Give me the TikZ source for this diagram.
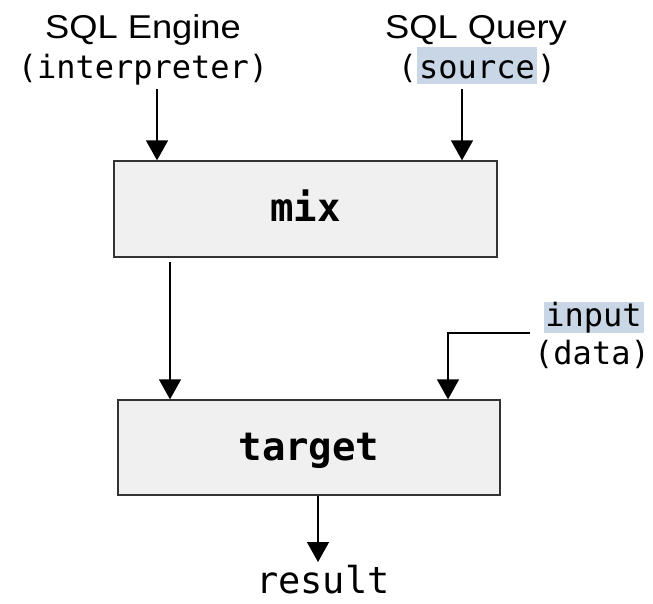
\documentclass[tikz,border=0pt]{standalone}
\usepackage{fontspec}
\setmainfont{Liberation Sans}[FakeStretch=1.1]
\newfontfamily\codefont{DejaVu Sans Mono}
\usetikzlibrary{arrows.meta}
\definecolor{boxfill}{HTML}{F0F0F0}
\definecolor{boxline}{HTML}{333333}
\definecolor{hl}{HTML}{C9D6E5}
\setlength{\fboxsep}{0pt}
\tikzset{
  block/.style={draw=boxline, line width=1.3pt, fill=boxfill, rectangle, inner sep=0pt},
  arr/.style={line width=1.4pt, -{Triangle[width=22pt,length=20pt]}},
  sanslabel/.style={anchor=base, inner sep=0pt, font=\fontsize{33}{38}\selectfont},
  codelabel/.style={anchor=base, inner sep=0pt, font=\codefont\fontsize{32}{38}\selectfont},
  boldcode/.style={anchor=base, inner sep=0pt, font=\codefont\bfseries\fontsize{39}{44}\selectfont},
}
\begin{document}
\begin{tikzpicture}[x=1pt,y=-1pt]
\useasboundingbox (0,0) rectangle (653,603);

% processing blocks
\node[block, minimum width=383pt, minimum height=96pt] (mix) at (305.5,209) {};
\node[boldcode] (mixtext) at (305.5,221) {mix};
\node[block, minimum width=382pt, minimum height=95pt] (target) at (309,447.5) {};
\node[boldcode] (targettext) at (309,460) {target};

% inputs at the top
\node[sanslabel] (engine) at (143,38) {SQL Engine};
\node[codelabel] (enginesub) at (143,78) {(interpreter)};
\node[sanslabel] (query) at (476,38) {SQL Query};
\node[codelabel] (querysub) at (477,78) {(\colorbox{hl}{\rule[-6pt]{0pt}{37pt}\hspace{2pt}source\hspace{2pt}})};

% side input
\node[codelabel] (input) at (594,326) {\colorbox{hl}{\rule[-3pt]{0pt}{27pt}\hspace{1pt}input\hspace{2pt}}};
\node[codelabel] (inputsub) at (592,364) {(data)};

% output
\node[codelabel, font=\codefont\fontsize{37}{40}\selectfont] (result) at (323,593) {result};

% connectors
\coordinate (engineout) at (157,89);
\coordinate (queryout) at (462,89);
\coordinate (mixout) at (170,257);
\coordinate (inputout) at (530,333);
\coordinate (resultin) at (318,562);

\draw[arr] (engineout) -- (engineout |- mix.north);
\draw[arr] (queryout) -- (queryout |- mix.north);
\draw[arr, shorten <=5pt] (mixout) -- (mixout |- target.north);
\draw[arr] (inputout) -- (448,333) -- (448,333 |- target.north);
\draw[arr] (resultin |- target.south) -- (resultin);
\end{tikzpicture}
\end{document}
